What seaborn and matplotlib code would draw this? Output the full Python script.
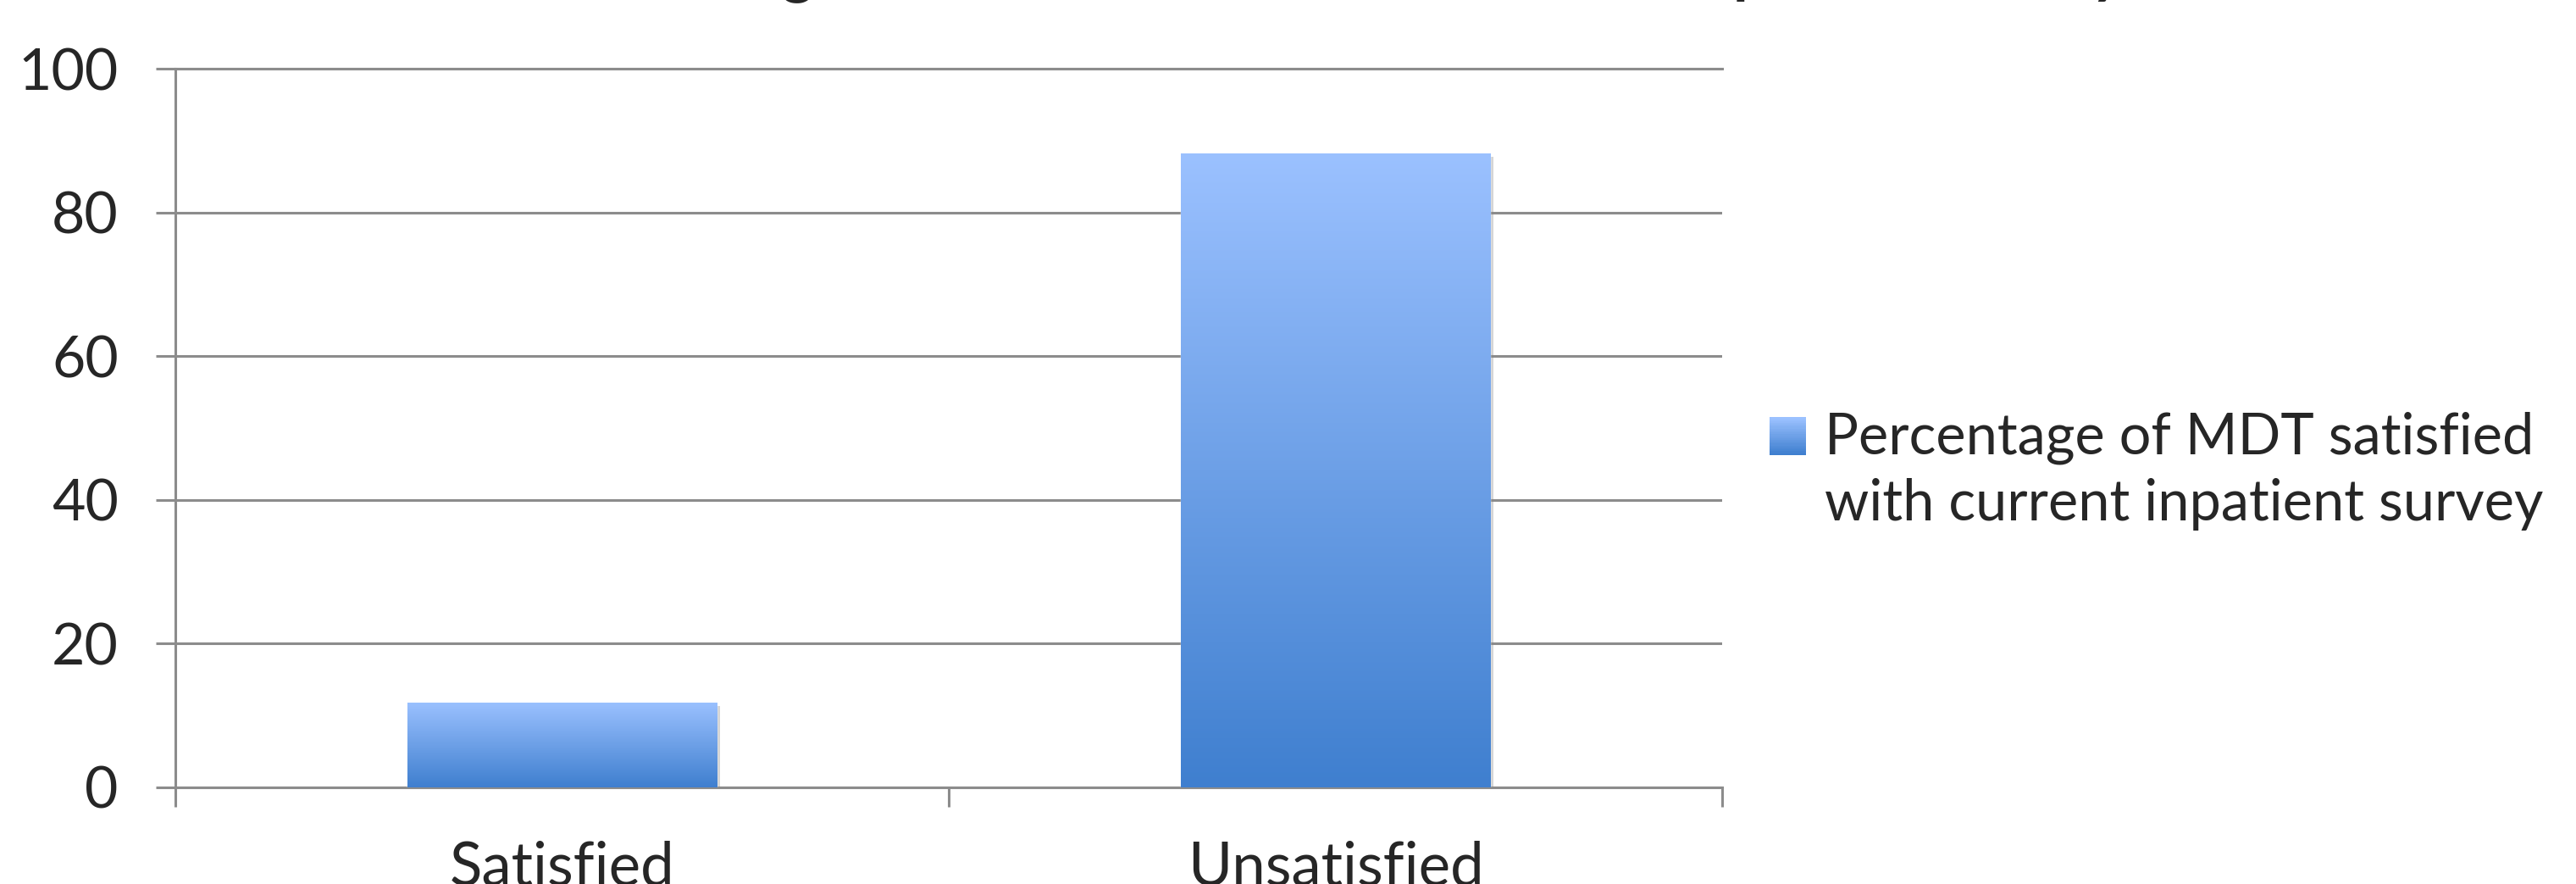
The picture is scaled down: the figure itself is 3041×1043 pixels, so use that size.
import numpy as np
import pandas as pd
import matplotlib
matplotlib.use("Agg")
import matplotlib.pyplot as plt
import matplotlib.patheffects as pe
from matplotlib.colors import LinearSegmentedColormap
from matplotlib.patches import Rectangle
from matplotlib.legend_handler import HandlerBase
import seaborn as sns

# Data
categories = ["Satisfied", "Unsatisfied"]
percentages = [11.8, 88.2]
series_name = "Percentage of MDT satisfied\nwith current inpatient survey"
chart_title = "Percentage of MDT satisfied with current inpatient survey"
y_ticks = [0, 20, 40, 60, 80, 100]

TOP_BLUE = "#9bc1ff"
BOTTOM_BLUE = "#3f7fcf"
GRID_GREY = "#8c8c8c"

sns.set_style("white")
plt.rcParams["font.family"] = ["Lato", "DejaVu Sans"]

W, H = 3041, 1043
fig = plt.figure(figsize=(W / 100, H / 100), dpi=100)
ax = fig.add_axes([207 / W, 1 - 929 / H, (2033 - 207) / W, (929 - 81) / H])

df = pd.DataFrame({"category": categories, "value": percentages})
sns.barplot(data=df, x="category", y="value", width=0.4, color=TOP_BLUE,
            saturation=1, ax=ax, zorder=3)

# vertical gradient inside each bar
blues = LinearSegmentedColormap.from_list("bar_blues", [BOTTOM_BLUE, TOP_BLUE])
grad = np.linspace(0, 1, 256).reshape(-1, 1)
for bar in ax.patches:
    x0, y0 = bar.get_x(), bar.get_y()
    w, h = bar.get_width(), bar.get_height()
    bar.set_path_effects([pe.SimplePatchShadow(offset=(3, -3), shadow_rgbFace="#888888", alpha=0.35),
                          pe.Normal()])
    img = ax.imshow(grad, cmap=blues, origin="lower", aspect="auto",
                    extent=[x0, x0 + w, y0, y0 + h], zorder=4)
    img.set_clip_path(bar)

ax.set_xlim(-0.5, 1.5)
ax.set_ylim(0, 100)
ax.set_yticks(y_ticks)
ax.set_xlabel("")
ax.set_ylabel("")

ax.yaxis.grid(True, color=GRID_GREY, linewidth=2.2, zorder=0)
ax.set_axisbelow(True)
for side in ["left", "bottom", "top"]:
    ax.spines[side].set_visible(True)
    ax.spines[side].set_color(GRID_GREY)
    ax.spines[side].set_linewidth(2.2)
ax.spines["right"].set_visible(False)

ax.tick_params(axis="y", which="major", direction="out", length=16.5, width=2.2,
               color=GRID_GREY, labelsize=49, pad=32, left=True)
ax.set_xticks([-0.5, 0.5, 1.5], minor=True)
ax.tick_params(axis="x", which="minor", direction="out", length=16.5, width=2.2,
               color=GRID_GREY, bottom=True)
ax.tick_params(axis="x", which="major", length=0, labelsize=51, pad=45)


class GradientHandler(HandlerBase):
    # square sits beside the first line of the two-line label
    def create_artists(self, legend, orig_handle, xdescent, ydescent, width, height,
                       fontsize, trans):
        n = 20
        lift = 31
        arts = []
        for i in range(n):
            c = blues(i / (n - 1))
            arts.append(Rectangle((-xdescent, -ydescent + lift + height * i / n), width,
                                  height / n + 0.3, facecolor=c, edgecolor="none",
                                  transform=trans))
        return arts


handle = Rectangle((0, 0), 1, 1, facecolor=TOP_BLUE)
leg = fig.legend([handle], [series_name], handler_map={Rectangle: GradientHandler()},
                 loc="center left", bbox_to_anchor=(2089 / W, 1 - 556 / H), frameon=False,
                 fontsize=48, handlelength=0.65, handleheight=0.65, handletextpad=0.33,
                 borderpad=0, borderaxespad=0)
for t in leg.get_texts():
    t.set_linespacing(1.33)

# title sits mostly above the canvas, only descenders show
fig.text(1571 / W, 1 + 12 / H, chart_title, ha="center", va="baseline",
         fontsize=52, fontweight="bold")

fig.savefig("out.png", dpi=100)
